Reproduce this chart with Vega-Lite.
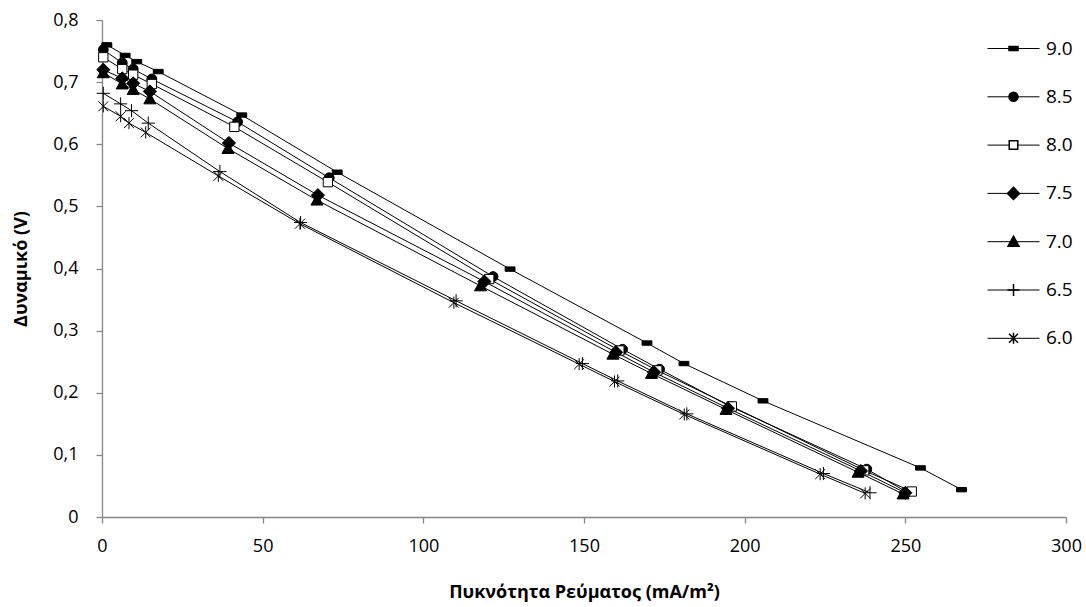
{
  "$schema": "https://vega.github.io/schema/vega-lite/v6.json",
  "width": 964,
  "height": 497,
  "autosize": {"type": "none"},
  "padding": {"left": 102, "top": 20, "right": 20, "bottom": 90},
  "background": "white",
  "config": {
    "font": "Open Sans",
    "view": {"stroke": null},
    "axis": {"domainColor": "#868686", "tickColor": "#868686", "grid": false, "labelColor": "black", "titleColor": "black", "labelFontSize": 18, "titleFontSize": 18, "titleFontWeight": "bold", "tickSize": 6, "domainWidth": 1.3, "tickWidth": 1.3, "labelFlush": false, "labelOverlap": false},
    "legend": {"orient": "none", "legendX": 902, "legendY": 19, "padding": 0, "labelFontSize": 19, "labelColor": "black", "labelOffset": 23, "rowPadding": 28.3, "title": null}
  },
  "data": {"values": [
    {"series": "9.0", "current": 1.5, "potential": 0.760},
    {"series": "9.0", "current": 7.2, "potential": 0.743},
    {"series": "9.0", "current": 10.8, "potential": 0.733},
    {"series": "9.0", "current": 17.5, "potential": 0.717},
    {"series": "9.0", "current": 43.5, "potential": 0.647},
    {"series": "9.0", "current": 73.2, "potential": 0.555},
    {"series": "9.0", "current": 127.0, "potential": 0.399},
    {"series": "9.0", "current": 169.6, "potential": 0.280},
    {"series": "9.0", "current": 181.1, "potential": 0.247},
    {"series": "9.0", "current": 205.7, "potential": 0.187},
    {"series": "9.0", "current": 254.7, "potential": 0.079},
    {"series": "9.0", "current": 267.5, "potential": 0.044},
    {"series": "8.5", "current": 0.4, "potential": 0.752},
    {"series": "8.5", "current": 6.3, "potential": 0.731},
    {"series": "8.5", "current": 9.7, "potential": 0.721},
    {"series": "8.5", "current": 15.5, "potential": 0.705},
    {"series": "8.5", "current": 42.2, "potential": 0.636},
    {"series": "8.5", "current": 70.7, "potential": 0.546},
    {"series": "8.5", "current": 121.7, "potential": 0.387},
    {"series": "8.5", "current": 162.0, "potential": 0.270},
    {"series": "8.5", "current": 173.5, "potential": 0.238},
    {"series": "8.5", "current": 195.5, "potential": 0.178},
    {"series": "8.5", "current": 238.0, "potential": 0.077},
    {"series": "8.5", "current": 250.5, "potential": 0.040},
    {"series": "8.0", "current": 0.4, "potential": 0.740},
    {"series": "8.0", "current": 6.3, "potential": 0.721},
    {"series": "8.0", "current": 9.7, "potential": 0.712},
    {"series": "8.0", "current": 15.5, "potential": 0.697},
    {"series": "8.0", "current": 41.2, "potential": 0.628},
    {"series": "8.0", "current": 70.3, "potential": 0.539},
    {"series": "8.0", "current": 120.5, "potential": 0.383},
    {"series": "8.0", "current": 161.0, "potential": 0.268},
    {"series": "8.0", "current": 172.8, "potential": 0.236},
    {"series": "8.0", "current": 196.0, "potential": 0.178},
    {"series": "8.0", "current": 237.2, "potential": 0.075},
    {"series": "8.0", "current": 252.0, "potential": 0.041},
    {"series": "7.5", "current": 0.4, "potential": 0.720},
    {"series": "7.5", "current": 6.3, "potential": 0.706},
    {"series": "7.5", "current": 9.7, "potential": 0.698},
    {"series": "7.5", "current": 14.9, "potential": 0.685},
    {"series": "7.5", "current": 39.5, "potential": 0.602},
    {"series": "7.5", "current": 67.2, "potential": 0.518},
    {"series": "7.5", "current": 119.0, "potential": 0.379},
    {"series": "7.5", "current": 160.0, "potential": 0.265},
    {"series": "7.5", "current": 171.8, "potential": 0.233},
    {"series": "7.5", "current": 194.8, "potential": 0.175},
    {"series": "7.5", "current": 236.2, "potential": 0.074},
    {"series": "7.5", "current": 250.0, "potential": 0.039},
    {"series": "7.0", "current": 0.4, "potential": 0.715},
    {"series": "7.0", "current": 6.3, "potential": 0.697},
    {"series": "7.0", "current": 9.7, "potential": 0.688},
    {"series": "7.0", "current": 14.9, "potential": 0.673},
    {"series": "7.0", "current": 39.2, "potential": 0.593},
    {"series": "7.0", "current": 66.9, "potential": 0.510},
    {"series": "7.0", "current": 117.8, "potential": 0.372},
    {"series": "7.0", "current": 159.0, "potential": 0.262},
    {"series": "7.0", "current": 171.0, "potential": 0.231},
    {"series": "7.0", "current": 194.2, "potential": 0.173},
    {"series": "7.0", "current": 235.3, "potential": 0.072},
    {"series": "7.0", "current": 249.3, "potential": 0.037},
    {"series": "6.5", "current": 0.4, "potential": 0.682},
    {"series": "6.5", "current": 5.8, "potential": 0.665},
    {"series": "6.5", "current": 9.2, "potential": 0.654},
    {"series": "6.5", "current": 14.4, "potential": 0.634},
    {"series": "6.5", "current": 36.7, "potential": 0.556},
    {"series": "6.5", "current": 61.8, "potential": 0.474},
    {"series": "6.5", "current": 110.2, "potential": 0.348},
    {"series": "6.5", "current": 149.5, "potential": 0.247},
    {"series": "6.5", "current": 160.5, "potential": 0.219},
    {"series": "6.5", "current": 182.0, "potential": 0.166},
    {"series": "6.5", "current": 224.5, "potential": 0.070},
    {"series": "6.5", "current": 239.0, "potential": 0.039},
    {"series": "6.0", "current": 0.4, "potential": 0.661},
    {"series": "6.0", "current": 5.8, "potential": 0.645},
    {"series": "6.0", "current": 8.4, "potential": 0.634},
    {"series": "6.0", "current": 13.6, "potential": 0.619},
    {"series": "6.0", "current": 36.2, "potential": 0.549},
    {"series": "6.0", "current": 61.6, "potential": 0.472},
    {"series": "6.0", "current": 109.5, "potential": 0.345},
    {"series": "6.0", "current": 148.5, "potential": 0.246},
    {"series": "6.0", "current": 159.5, "potential": 0.218},
    {"series": "6.0", "current": 181.2, "potential": 0.165},
    {"series": "6.0", "current": 223.5, "potential": 0.069},
    {"series": "6.0", "current": 237.5, "potential": 0.038}
  ]},
  "encoding": {
    "x": {"field": "current", "type": "quantitative", "scale": {"domain": [0, 300], "nice": false},
      "axis": {"values": [0, 50, 100, 150, 200, 250, 300], "title": "Πυκνότητα Ρεύματος (mA/m²)", "labelPadding": 14, "titlePadding": 28}},
    "y": {"field": "potential", "type": "quantitative", "scale": {"domain": [0, 0.8], "nice": false},
      "axis": {"values": [0, 0.1, 0.2, 0.3, 0.4, 0.5, 0.6, 0.7, 0.8], "title": "Δυναμικό (V)", "labelPadding": 18, "titlePadding": 22,
        "labelExpr": "datum.value == 0 ? '0' : replace(format(datum.value, '.1f'), '.', ',')"}}
  },
  "layer": [
    {
      "mark": {"type": "line", "strokeWidth": 1},
      "encoding": {
        "stroke": {"field": "series", "type": "nominal", "sort": "descending",
          "scale": {"range": ["black"]},
          "legend": {"symbolType": "M-5.2,0L5.2,0", "symbolSize": 100, "symbolStrokeWidth": 1, "symbolStrokeColor": "black", "labelOpacity": 0}}
      }
    },
    {
      "mark": {"type": "point", "filled": true, "size": 120, "stroke": "black", "strokeWidth": 1, "opacity": 1},
      "encoding": {
        "shape": {"field": "series", "type": "nominal",
          "scale": {"domain": ["9.0", "8.5", "8.0", "7.5", "7.0", "6.5", "6.0"],
            "range": [
              "M-0.9,-0.4L0.9,-0.4L0.9,0.4L-0.9,0.4Z",
              "M0.9,0A0.9,0.9,0,1,1,-0.9,0A0.9,0.9,0,1,1,0.9,0Z",
              "M-0.85,-0.85L0.85,-0.85L0.85,0.85L-0.85,0.85Z",
              "M0,-1.2L1.2,0L0,1.2L-1.2,0Z",
              "M0,-1.1L1.1,0.9L-1.1,0.9Z",
              "M-1.2,0L1.2,0M0,-1.2L0,1.2",
              "M-0.9,-0.9L0.9,0.9M-0.9,0.9L0.9,-0.9M0,-1.1L0,1.1"
            ]}},
        "fill": {"field": "series", "type": "nominal",
          "scale": {"domain": ["9.0", "8.5", "8.0", "7.5", "7.0", "6.5", "6.0"],
            "range": ["black", "black", "white", "black", "black", "black", "black"]}}
      }
    }
  ]
}
